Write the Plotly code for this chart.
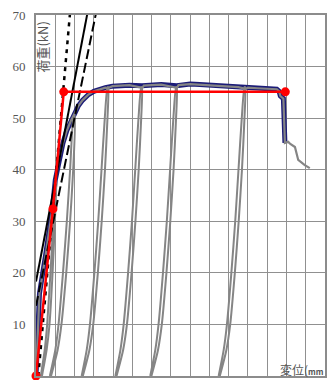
import plotly.graph_objects as go

# ---- data (displacement mm, load kN) ----
env_x = [0, 0.18, 0.5, 0.85, 1.0, 1.2, 1.4, 1.6, 1.8, 2.0, 2.2, 2.42, 2.7, 3.0, 3.3, 3.6, 3.97,
         4.4, 4.85, 5.5, 6.0, 6.5, 7.3, 8.0, 8.5, 9.0, 9.5, 10.0, 10.5, 11.0, 11.5, 12.0, 12.5,
         12.62, 12.68, 12.84, 12.92]
env_y = [0, 16, 23.5, 32.4, 38, 42, 45.2, 47.6, 49.4, 51.0, 52.4, 53.5, 54.5, 55.2, 55.6, 55.9,
         56.2, 56.3, 56.4, 56.3, 56.4, 56.5, 56.3, 56.6, 56.5, 56.4, 56.3, 56.2, 56.0, 55.9, 55.8,
         55.7, 55.6, 55.2, 54.3, 53.8, 45.2]

data_x = [0, 0.18, 0.5, 0.85, 1.0, 1.2, 1.4, 1.6, 1.8, 2.0, 2.2, 2.42, 2.7, 3.0, 3.3, 3.6, 3.71,
          3.97, 4.4, 4.85, 5.52, 5.6, 6.0, 6.5, 7.32, 7.4, 8.0, 8.5, 9.0, 9.5, 10.0, 10.5, 10.88,
          11.0, 11.5, 12.0, 12.5, 12.62, 12.68, 12.84, 12.92, 13.09, 13.2, 13.44, 13.61, 13.95, 14.21]
data_y = [0, 16, 23.5, 32.4, 38, 42, 45.2, 47.6, 49.4, 51.0, 52.4, 53.5, 54.5, 55.2, 55.6, 55.9,
          55.8, 56.2, 56.3, 56.4, 55.9, 56.3, 56.4, 56.5, 55.9, 56.4, 56.6, 56.5, 56.4, 56.3, 56.2,
          56.0, 55.7, 55.9, 55.8, 55.7, 55.6, 55.2, 54.3, 53.8, 45.2, 45.4, 45.0, 44.4, 41.9, 40.9,
          40.3]

# unloading / reloading loops
loop0_x = [0.25, 0.45, 0.58, 0.75, 0.90, 1.00, 1.04, 0.98, 0.86, 0.70, 0.55, 0.31]
loop0_y = [0, 5, 10, 20, 30, 38, 38, 30, 20, 10, 5, 0]
loop1_x = [0.72, 1.00, 1.17, 1.40, 1.60, 1.77, 1.94, 2.02, 1.93, 1.77, 1.57, 1.32, 1.12, 0.78]
loop1_y = [0, 5, 10, 20, 30, 40, 50, 50.5, 40, 30, 20, 10, 5, 0]
loop2_x = [2.37, 2.63, 2.80, 3.03, 3.23, 3.40, 3.57, 3.71, 3.75, 3.71, 3.58, 3.41, 3.21, 2.97, 2.77, 2.43]
loop3_x = [4.12, 4.38, 4.55, 4.78, 4.98, 5.15, 5.32, 5.46, 5.50, 5.46, 5.33, 5.16, 4.96, 4.72, 4.52, 4.18]
loop4_x = [5.93, 6.19, 6.36, 6.59, 6.79, 6.96, 7.13, 7.27, 7.31, 7.27, 7.14, 6.97, 6.77, 6.53, 6.33, 5.99]
loop5_x = [9.48, 9.74, 9.91, 10.14, 10.34, 10.51, 10.68, 10.82, 10.86, 10.82, 10.69, 10.52, 10.32, 10.08, 9.88, 9.54]
loop_y = [0, 5, 10, 20, 30, 40, 50, 56.0, 56.0, 50, 40, 30, 20, 10, 5, 0]

# bilinear model
bil_x = [0, 0.88, 1.44, 12.94]
bil_y = [0, 32.4, 55.1, 55.1]

# stiffness lines
solid_x = [0, 2.7]
solid_y = [18.3, 70.95]
ldash_x = [0, 3.15]
ldash_y = [13.6, 71]
dot_x = [0.12, 1.78]
dot_y = [0, 71]

y_ticks = [0, 10, 20, 30, 40, 50, 60, 70]

fig = go.Figure()
fig.add_trace(go.Scatter(x=env_x, y=env_y, mode="lines",
                         line=dict(color="#1c1c78", width=5)))
for lx, ly in [(loop0_x, loop0_y), (loop1_x, loop1_y), (loop2_x, loop_y),
               (loop3_x, loop_y), (loop4_x, loop_y), (loop5_x, loop_y)]:
    fig.add_trace(go.Scatter(x=lx, y=ly, mode="lines",
                             line=dict(color="#858585", width=2, shape="spline", smoothing=0.6)))
fig.add_trace(go.Scatter(x=data_x, y=data_y, mode="lines",
                         line=dict(color="#858585", width=2.2)))
fig.add_trace(go.Scatter(x=solid_x, y=solid_y, mode="lines",
                         line=dict(color="black", width=2)))
fig.add_trace(go.Scatter(x=ldash_x, y=ldash_y, mode="lines",
                         line=dict(color="black", width=2, dash="10px,4px")))
fig.add_trace(go.Scatter(x=dot_x, y=dot_y, mode="lines",
                         line=dict(color="black", width=2.5, dash="4px,5px")))
fig.add_trace(go.Scatter(x=bil_x, y=bil_y, mode="lines+markers",
                         line=dict(color="#ff0000", width=2.5),
                         marker=dict(color="#ff0000", size=9), cliponaxis=False))

fig.update_layout(
    width=328, height=380,
    margin=dict(l=36, r=1, t=15, b=4),
    paper_bgcolor="white", plot_bgcolor="white",
    showlegend=False,
    xaxis=dict(range=[0, 15], dtick=1, showticklabels=False, ticks="",
               showgrid=True, gridcolor="#909090", gridwidth=1,
               showline=True, linecolor="#8c8c8c", linewidth=2, mirror=True,
               zeroline=False),
    yaxis=dict(range=[0, 70], tickvals=y_ticks, ticks="",
               ticklabelstandoff=6,
               tickfont=dict(family="Liberation Serif", size=13, color="#555555"),
               showgrid=True, gridcolor="#909090", gridwidth=1,
               showline=True, linecolor="#8c8c8c", linewidth=2, mirror=True,
               zeroline=False),
    annotations=[
        dict(text="荷重(kN)", xref="paper", yref="paper", x=0.021, y=0.91,
             xanchor="center", yanchor="middle", textangle=-90, showarrow=False,
             font=dict(family="Noto Sans CJK JP", size=13, color="#555555")),
        dict(text="変位(<span style='font-size:8px'><b>mm</b></span>",
             xref="paper", yref="paper", x=(280 - 36) / 291,
             y=(376 - 380) / 361,
             xanchor="left", yanchor="bottom", showarrow=False,
             font=dict(family="Noto Sans CJK JP", size=12, color="#555555")),
    ],
)

fig.write_html("out.html")
